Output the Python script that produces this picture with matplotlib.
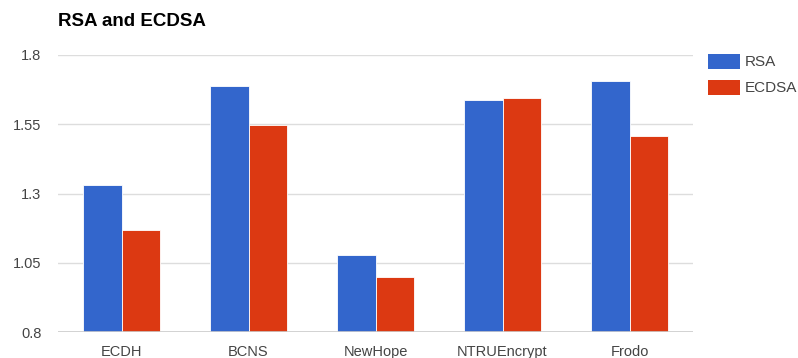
import matplotlib
matplotlib.use("Agg")
import matplotlib.pyplot as plt
from matplotlib.patches import Rectangle
import numpy as np

plt.rcParams["font.family"] = ["Liberation Sans", "DejaVu Sans"]

categories = ["ECDH", "BCNS", "NewHope", "NTRUEncrypt", "Frodo"]
rsa = [1.330, 1.689, 1.078, 1.638, 1.707]
ecdsa = [1.169, 1.548, 1.000, 1.646, 1.508]
yticks = [0.8, 1.05, 1.3, 1.55, 1.8]
ytick_labels = ["0.8", "1.05", "1.3", "1.55", "1.8"]
series_names = ["RSA", "ECDSA"]
colors = ["#3366cc", "#dc3912"]

fig = plt.figure(figsize=(7.98, 3.58), dpi=100)
ax = fig.add_axes([58/798, 25.7/358, (693-58)/798, (332.3-55)/358])

x = np.arange(len(categories))
w = 0.305
ax.bar(x - w/2, [v - 0.8 for v in rsa], w, bottom=0.8, color=colors[0],
       edgecolor="white", linewidth=0.6, label=series_names[0], zorder=3)
ax.bar(x + w/2, [v - 0.8 for v in ecdsa], w, bottom=0.8, color=colors[1],
       edgecolor="white", linewidth=0.6, label=series_names[1], zorder=3)

ax.set_xlim(-0.5, len(categories) - 0.5)
ax.set_ylim(0.8, 1.8)
ax.set_yticks(yticks)
ax.set_yticklabels(ytick_labels)
ax.set_xticks(x)
ax.set_xticklabels(categories)
ax.grid(axis="y", color="#dddddd", linewidth=1, zorder=0)
ax.axhline(0.8, color="#cccccc", linewidth=1.2, zorder=4)
for s in ax.spines.values():
    s.set_visible(False)
ax.tick_params(axis="both", length=0, labelsize=10.5, labelcolor="#444444")
ax.tick_params(axis="y", pad=12)
ax.tick_params(axis="x", pad=9)

fig.text(58/798, 1 - 21/358, "RSA and ECDSA", fontsize=13.5, fontweight="bold",
         color="#000000", ha="left", va="center")

# legend (drawn in figure pixel coordinates)
for i, (name, c) in enumerate(zip(series_names, colors)):
    y0 = 54 + i * 26
    fig.add_artist(Rectangle((708/798, 1 - (y0 + 15)/358), 32/798, 15/358,
                             transform=fig.transFigure, facecolor=c,
                             edgecolor="none"))
    fig.text(745/798, 1 - (y0 + 7.5)/358, name, fontsize=11,
             color="#444444", ha="left", va="center")

fig.savefig("out.png", dpi=100)
